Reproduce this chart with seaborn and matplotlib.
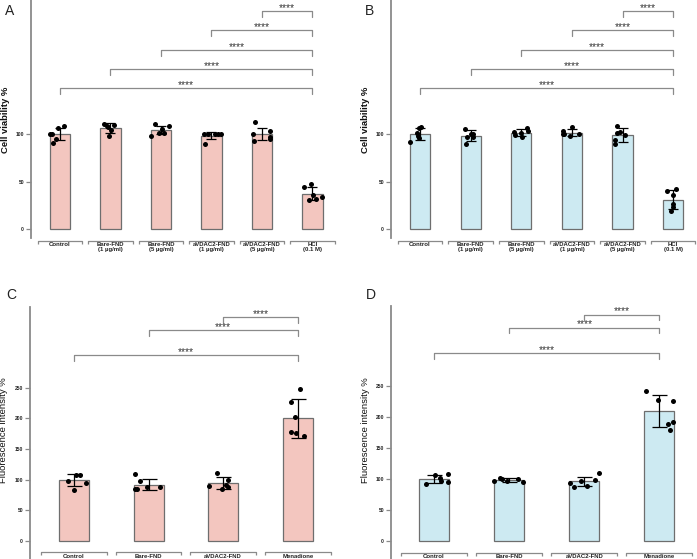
import numpy as np
import pandas as pd
import seaborn as sns
import matplotlib.pyplot as plt

sns.set_style("white")
plt.rcParams['font.family'] = ['Liberation Sans', 'DejaVu Sans']

# group labels
groups_ab = ["Control", "Bare-FND\n(1 µg/ml)", "Bare-FND\n(5 µg/ml)",
             "aVDAC2-FND\n(1 µg/ml)", "aVDAC2-FND\n(5 µg/ml)", "HCl\n(0.1 M)"]
groups_cd = ["Control", "Bare-FND", "aVDAC2-FND", "Menadione"]

# panel A - cell viability
a_mean = [100, 106.3, 104.2, 98.2, 100, 37.2]
a_sd = [6.7, 5.0, 4.7, 3.5, 6.8, 6.5]
a_points = [[106, 108, 100, 95, 91, 100],
            [111, 108, 107, 104, 97.5, 110],
            [110.5, 108.8, 98.2, 100.7, 100.7, 105.6],
            [100, 90, 99.5, 100, 100, 99.5],
            [97, 94.5, 92.5, 100, 112.5, 103.5],
            [44.6, 47, 34, 35.8, 31.2, 30.2]]

# panel B - cell viability
b_mean = [100, 98.2, 101.4, 101.4, 98.9, 30.9]
b_sd = [6.2, 6.0, 3.5, 3.9, 7.0, 9.8]
b_points = [[95.5, 92, 107.5, 106, 98, 101],
            [105.5, 97, 97, 90, 100, 99.5],
            [102.5, 97.2, 98.9, 106.7, 103.5, 101],
            [100, 99.5, 107.5, 103.5, 97.5, 100.5],
            [89.5, 99, 108.5, 93.5, 101, 102],
            [35.8, 40.4, 41.8, 26.3, 22.8, 19.3]]

# panel C - fluorescence
c_mean = [100, 92, 94, 200]
c_sd = [10, 9.5, 10, 31.5]
c_points = [[108, 107.5, 98.5, 83.5, 94],
            [87.5, 84.2, 98.4, 108.7, 87.5, 84.2],
            [84.2, 99.5, 111.4, 87.5, 91.3, 89.7],
            [247.8, 226.6, 202.7, 177.2, 171.7, 175.5]]

# panel D - fluorescence
d_mean = [100, 98.2, 96, 209.8]
d_sd = [6.5, 3.3, 7.5, 25.5]
d_points = [[95, 106.2, 107.8, 97.1, 101.9, 91.7],
            [95, 96, 99.8, 96, 100.3, 100.9],
            [98.2, 110, 86.4, 88.5, 92.8, 97.1],
            [242, 225.9, 228, 192, 188.3, 178.6]]

# heights of the "****" brackets
ab_sig = [148, 168, 188, 209, 229]
cd_sig = [303, 344, 365]

pink = "#F3C6BF"
blue = "#CDEAF2"
grey = "#8a8a8a"

W, H = 697, 559
fig = plt.figure(figsize=(W / 100, H / 100), dpi=100)


def px_axes(left, top, right, bottom):
    return fig.add_axes([left / W, 1 - bottom / H, (right - left) / W, (bottom - top) / H])


def draw_panel(ax, groups, means, sds, points, color, xlim, ylim, yticks,
               ylabel, ylabel_bold, label_y, sig, seed):
    bbox = ax.get_position()
    ppu = bbox.height * H / (ylim[1] - ylim[0])  # pixels per data unit in y
    width_px = bbox.width * W
    cap = 3.6 if len(groups) > 4 else 5.4

    sns.barplot(x=groups, y=means, color=color, saturation=1, width=0.4,
                edgecolor="#6e6e6e", linewidth=0.9, errorbar=None, ax=ax, zorder=1)

    pts = pd.DataFrame({"group": np.repeat(groups, [len(p) for p in points]),
                        "value": np.concatenate(points)})
    np.random.seed(seed)
    sns.stripplot(data=pts, x="group", y="value", order=groups, color="black",
                  size=3.6, jitter=0.2, ax=ax, zorder=3)

    ax.errorbar(np.arange(len(groups)), means, yerr=sds, fmt="none", ecolor="black",
                elinewidth=0.9, capsize=cap, capthick=0.9, zorder=4)

    ax.set_xlim(*xlim)
    ax.set_ylim(*ylim)
    ax.set_yticks(yticks)
    ax.set_yticklabels([str(t) for t in yticks], fontsize=3.6, fontweight="bold")
    ax.set_xticks([])
    ax.set_xlabel("")
    ax.tick_params(axis="y", length=3.5, width=0.9, color=grey, pad=1.5, left=True)
    for s in ["top", "right", "bottom"]:
        ax.spines[s].set_visible(False)
    ax.spines["left"].set_color(grey)
    ax.spines["left"].set_linewidth(1.3)

    ax.set_ylabel(ylabel, fontsize=6.8, fontweight="bold" if ylabel_bold else "normal",
                  color="#111111", va="center")
    ax.yaxis.set_label_coords(-26 / width_px, ((1 - label_y / H) - bbox.y0) / bbox.height)

    # category brackets under the bars
    yb = -11.5 / ppu
    drop = 3 / ppu
    half = 0.44
    for i, g in enumerate(groups):
        ax.plot([i - half, i - half, i + half, i + half], [yb - drop, yb, yb, yb - drop],
                color=grey, lw=0.9, clip_on=False, solid_capstyle="butt")
        ax.text(i, yb - 1.5 / ppu, g, ha="center", va="top", fontsize=4.3,
                fontweight="bold", linespacing=1.0, color="#222222", clip_on=False)

    # significance brackets, all against the last group
    last = len(groups) - 1
    sdrop = 5.5 / ppu
    for i, level in enumerate(sig):
        ax.plot([i, i, last, last], [level - sdrop, level, level, level - sdrop],
                color=grey, lw=0.9, clip_on=False)
        ax.text((i + last) / 2, level + 0.5 / ppu, "****", ha="center", va="baseline",
                fontsize=7.4, color="#333333", clip_on=False)


axA = px_axes(31, 0, 338, 238)
draw_panel(axA, groups_ab, a_mean, a_sd, a_points, pink, (-0.574, 5.505),
           (-9.47, 241.05), [0, 50, 100], "Cell viability %", True, 120, ab_sig, 1)

axB = px_axes(391, 0, 697, 238)
draw_panel(axB, groups_ab, b_mean, b_sd, b_points, blue, (-0.573, 5.47),
           (-9.47, 241.05), [0, 50, 100], "Cell viability %", True, 120, ab_sig, 2)

axC = px_axes(30, 307, 340, 559)
draw_panel(axC, groups_cd, c_mean, c_sd, c_points, pink, (-0.59, 3.566),
           (-29.4, 381.7), [0, 50, 100, 150, 200, 250], "Fluorescence intensity %",
           False, 430, cd_sig, 3)

axD = px_axes(391, 306, 697, 559)
draw_panel(axD, groups_cd, d_mean, d_sd, d_points, blue, (-0.573, 3.5),
           (-29.0, 379.0), [0, 50, 100, 150, 200, 250], "Fluorescence intensity %",
           False, 430, cd_sig, 4)

# panel letters
for letter, x, y in [("A", 10, 11), ("B", 370, 11), ("C", 11, 295), ("D", 371, 295)]:
    fig.text(x / W, 1 - y / H, letter, fontsize=10, ha="center", va="center", color="#222222")

fig.savefig("out.png", dpi=100, facecolor="white")
